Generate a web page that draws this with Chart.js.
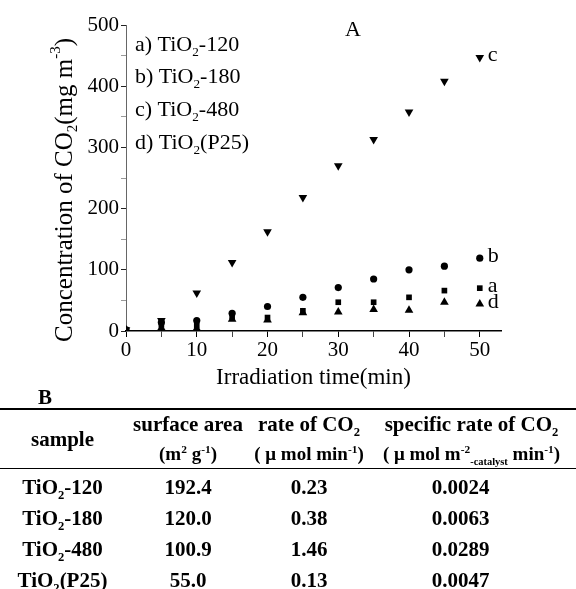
<!DOCTYPE html>
<html>
<head>
<meta charset="utf-8">
<script src="https://cdn.jsdelivr.net/npm/chart.js@4.4.1/dist/chart.umd.min.js"></script>
<style>
  html, body { margin: 0; padding: 0; background: #fff; }
  #page { position: relative; width: 576px; height: 589px; overflow: hidden; }
  #chart { position: absolute; left: 0; top: 0; }
  #labelB { position: absolute; left: 38px; top: 385px; font: bold 21px 'Liberation Serif', serif; color: #000; }
  #tableB { position: absolute; left: 0; top: 408px; width: 576px; border-collapse: collapse;
            font: bold 21px 'Liberation Serif', serif; color: #000; table-layout: fixed; }
  #tableB th, #tableB td { padding: 0; text-align: center; white-space: nowrap; }
  #tableB th { height: 29px; }
  #tableB thead tr:first-child th { border-top: 2px solid #000; }
  #tableB thead tr:last-child th, #tableB th.sample { border-bottom: 1.5px solid #000; }
  #tableB thead tr.units th { font-size: 19px; }
  #tableB td { height: 30.8px; line-height: 22px; }
  #tableB tbody tr:first-child td { padding-top: 3px; }
  #tableB td.last { padding-right: 22px; }
  sub, sup { font-size: 0.6em; line-height: 0; }
  sub.tiny { font-size: 0.55em; font-weight: bold; }
</style>
</head>
<body>
<div id="page">
  <canvas id="chart" width="576" height="395"></canvas>
  <div id="labelB">B</div>
  <table id="tableB">
    <colgroup><col style="width:125px"><col style="width:126px"><col style="width:116px"><col style="width:209px"></colgroup>
    <thead>
      <tr><th class="sample" rowspan="2">sample</th><th>surface area</th><th>rate of CO<sub>2</sub></th><th>specific rate of CO<sub>2</sub></th></tr>
      <tr class="units"><th>(m<sup>2</sup> g<sup>-1</sup>)</th><th>( μ mol min<sup>-1</sup>)</th><th>( μ mol m<sup>-2</sup><sub class="tiny">-catalyst</sub> min<sup>-1</sup>)</th></tr>
    </thead>
    <tbody id="rows"></tbody>
  </table>
</div>
<script>
const serif = "'Liberation Serif', 'Times New Roman', serif"

// Irradiation time (min)
const times = [0, 5, 10, 15, 20, 25, 30, 35, 40, 45, 50]

// CO2 concentration (mg m-3)
const samples = ['TiO2-120', 'TiO2-180', 'TiO2-480', 'TiO2(P25)']
const seriesKeys = ['a', 'b', 'c', 'd']
const tio2_120 = [2, 10, 9, 24, 22, 33, 47, 47, 55, 66, 70]
const tio2_180 = [2, 14, 17, 29, 40, 55, 71, 85, 100, 106, 119]
const tio2_480 = [2, 17, 62, 112, 162, 218, 270, 313, 358, 408, 447]
const tio2_p25 = [2, 5, 4, 19, 18, 30, 31, 35, 34, 47, 44]

const xTicks = [0, 10, 20, 30, 40, 50]
const yTicks = [0, 100, 200, 300, 400, 500]

// table B
const surfaceArea = ['192.4', '120.0', '100.9', '55.0']
const rateCO2 = ['0.23', '0.38', '1.46', '0.13']
const specificRate = ['0.0024', '0.0063', '0.0289', '0.0047']

const subName = (name) => name.replace('TiO2', 'TiO<sub>2</sub>')
document.getElementById('rows').innerHTML = samples.map((s, i) =>
  `<tr><td>${subName(s)}</td><td>${surfaceArea[i]}</td><td>${rateCO2[i]}</td><td class="last">${specificRate[i]}</td></tr>`
).join('')

function drawRuns(ctx, runs, x, y, size, align) {
  const fontFor = (shift) => `${shift ? size * 0.6 : size}px ${serif}`
  const widths = runs.map(([text, shift]) => {
    ctx.font = fontFor(shift)
    return ctx.measureText(text).width
  })
  const total = widths.reduce((a, b) => a + b, 0)
  let cx = align === 'center' ? x - total / 2 : x
  runs.forEach(([text, shift], i) => {
    ctx.font = fontFor(shift)
    const dy = shift > 0 ? size * 0.32 : shift < 0 ? -size * 0.35 : 0
    ctx.fillText(text, cx, y + dy)
    cx += widths[i]
  })
}

const sampleRuns = (prefix, name) => [[prefix + 'TiO', 0], ['2', 1], [name.slice(4), 0]]

const annotations = {
  id: 'annotations',
  afterDraw(chart) {
    const { ctx, chartArea } = chart
    ctx.save()
    ctx.fillStyle = '#000'
    ctx.textBaseline = 'middle'
    ctx.textAlign = 'left'

    // legend block
    samples.forEach((name, i) => {
      drawRuns(ctx, sampleRuns(seriesKeys[i] + ') ', name), chartArea.left + 9, chartArea.top + 20 + i * 32.7, 22, 'left')
    })

    // panel letter
    ctx.font = `22px ${serif}`
    ctx.textAlign = 'center'
    ctx.fillText('A', chartArea.left + 227, 30)

    // series end labels
    ctx.textAlign = 'left'
    chart.data.datasets.forEach((ds, i) => {
      const pts = chart.getDatasetMeta(i).data
      const last = pts[pts.length - 1]
      ctx.font = `22px ${serif}`
      ctx.fillText(ds.key, last.x + 8, last.y - 2)
    })

    // y axis title
    ctx.translate(65, 190)
    ctx.rotate(-Math.PI / 2)
    drawRuns(ctx, [['Concentration of CO', 0], ['2', 1], ['(mg m', 0], ['-3', -1], [')', 0]], 0, 0, 25, 'center')
    ctx.restore()
  }
}

const toPoints = (values) => values.map((v, i) => ({ x: times[i], y: v }))
const styles = [
  { pointStyle: 'rect', radius: 4, rotation: 0 },
  { pointStyle: 'circle', radius: 3.6, rotation: 0 },
  { pointStyle: 'triangle', radius: 5, rotation: 180 },
  { pointStyle: 'triangle', radius: 5, rotation: 0 }
]
const datasets = [tio2_120, tio2_180, tio2_480, tio2_p25].map((values, i) => ({
  label: samples[i],
  key: seriesKeys[i],
  data: toPoints(values),
  showLine: false,
  pointStyle: styles[i].pointStyle,
  pointRadius: styles[i].radius,
  pointRotation: styles[i].rotation,
  pointBackgroundColor: '#000',
  pointBorderColor: '#000',
  pointBorderWidth: 0
}))

new Chart(document.getElementById('chart'), {
  type: 'scatter',
  data: { datasets },
  options: {
    responsive: false,
    animation: false,
    layout: { padding: { top: 25, right: 75, left: 0, bottom: 0 } },
    plugins: { legend: { display: false }, tooltip: { enabled: false } },
    scales: {
      x: {
        type: 'linear',
        min: 0,
        max: 53,
        afterFit: (scale) => { scale.height = 64 },
        ticks: {
          stepSize: 5,
          includeBounds: false,
          autoSkip: false,
          maxRotation: 0,
          padding: 1,
          color: '#000',
          font: { family: serif, size: 21 },
          callback: (v) => xTicks.includes(v) ? v : ''
        },
        grid: { drawOnChartArea: false, tickLength: 6, tickColor: (c) => xTicks.includes(c.tick.value) ? '#000' : '#444' },
        border: { color: '#000', width: 1.5 },
        title: {
          display: true,
          text: 'Irradiation time(min)',
          color: '#000',
          font: { family: serif, size: 23 },
          padding: { top: 0, bottom: 3 }
        }
      },
      y: {
        min: 0,
        max: 500,
        afterFit: (scale) => { scale.width = 126 },
        ticks: {
          stepSize: 50,
          autoSkip: false,
          padding: 2,
          color: '#000',
          font: { family: serif, size: 21 },
          callback: (v) => yTicks.includes(v) ? v : ''
        },
        grid: { drawOnChartArea: false, tickLength: 5, tickColor: (c) => yTicks.includes(c.tick.value) ? '#222' : '#999' },
        border: { color: '#666', width: 1 }
      }
    }
  },
  plugins: [annotations]
})
</script>
</body>
</html>
